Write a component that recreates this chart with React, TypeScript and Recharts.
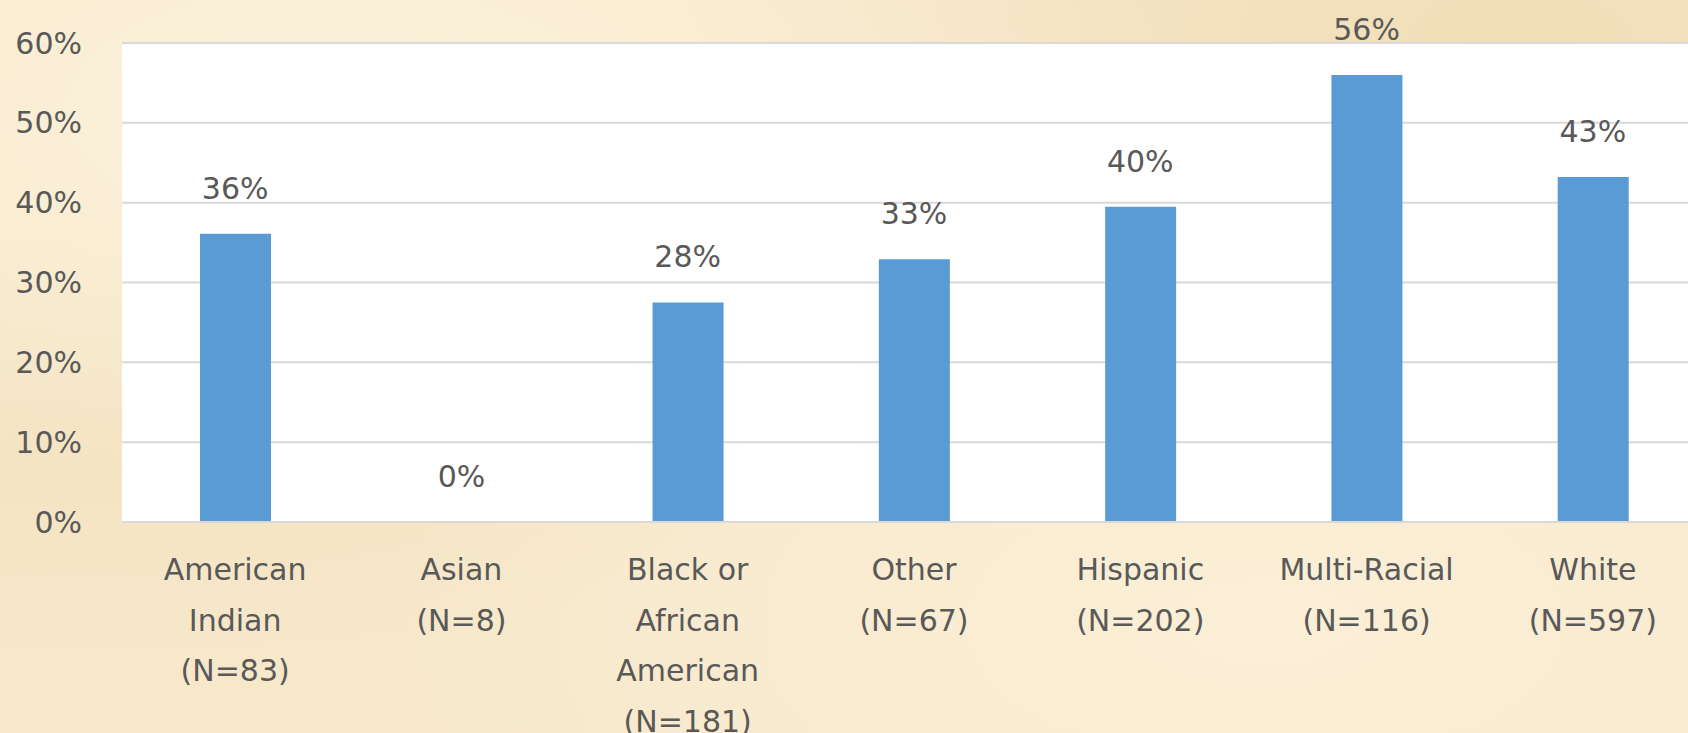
import { ComposedChart, Bar, Line, XAxis, YAxis, CartesianGrid } from 'recharts';

const categories = [
  'American\nIndian\n(N=83)',
  'Asian\n(N=8)',
  'Black or\nAfrican\nAmerican\n(N=181)',
  'Other\n(N=67)',
  'Hispanic\n(N=202)',
  'Multi-Racial\n(N=116)',
  'White\n(N=597)',
];
const shares = [0.361, 0, 0.275, 0.329, 0.395, 0.56, 0.432];
const yTicks = [0, 0.1, 0.2, 0.3, 0.4, 0.5, 0.6];

const chartData = categories.map((name, i) => ({ name, share: shares[i] }));

const FONT = '"DejaVu Sans", Verdana, sans-serif';
const TEXT = '#595959';

const pct = (v: number) => `${Math.round(v * 100)}%`;

function CategoryTick(props: any) {
  const { x, y, payload } = props;
  const lines = String(payload.value).split('\n');
  return (
    <text x={x} y={y} textAnchor="middle" fill={TEXT} fontSize={30} fontFamily={FONT}>
      {lines.map((line: string, i: number) => (
        <tspan key={i} x={x} dy={i === 0 ? 50 : 50.5}>{line}</tspan>
      ))}
    </text>
  );
}

// labels drawn from the line's points so the 0% value still gets one
function ValueLabel(props: any) {
  const { x, y, value } = props;
  return (
    <text x={x} y={y - 35} textAnchor="middle" fill={TEXT} fontSize={30} fontFamily={FONT}>
      {pct(value)}
    </text>
  );
}

export default function App() {
  return (
    <div
      style={{
        position: 'fixed', left: 0, top: 0, width: 1688, height: 733, overflow: 'hidden',
        background:
          'radial-gradient(ellipse at 20% 15%, rgba(255,248,232,0.6), transparent 45%),' +
          'radial-gradient(ellipse at 75% 85%, rgba(255,246,228,0.5), transparent 50%),' +
          'radial-gradient(ellipse at 90% 5%, rgba(236,214,170,0.55), transparent 40%),' +
          'radial-gradient(ellipse at 5% 60%, rgba(240,222,185,0.5), transparent 35%),' +
          '#F7E8CA',
      }}
    >
      <ComposedChart
        width={1710}
        height={733}
        data={chartData}
        margin={{ top: 43, right: 4, bottom: 0, left: 0 }}
      >
        <CartesianGrid vertical={false} stroke="#D9D9D9" strokeWidth={2} fill="#FFFFFF" fillOpacity={1} />
        <XAxis
          dataKey="name"
          height={211}
          interval={0}
          tickLine={false}
          axisLine={{ stroke: '#D9D9D9', strokeWidth: 2 }}
          tick={<CategoryTick />}
        />
        <YAxis
          width={122}
          domain={[0, 0.6]}
          ticks={yTicks}
          tickFormatter={pct}
          tickLine={false}
          axisLine={false}
          tickSize={0}
          tickMargin={40}
          tick={{ fill: TEXT, fontSize: 30, fontFamily: FONT }}
        />
        <Bar dataKey="share" fill="#5B9BD5" barSize={71} isAnimationActive={false} />
        <Line
          dataKey="share"
          stroke="none"
          dot={false}
          activeDot={false}
          isAnimationActive={false}
          label={<ValueLabel />}
        />
      </ComposedChart>
    </div>
  );
}
